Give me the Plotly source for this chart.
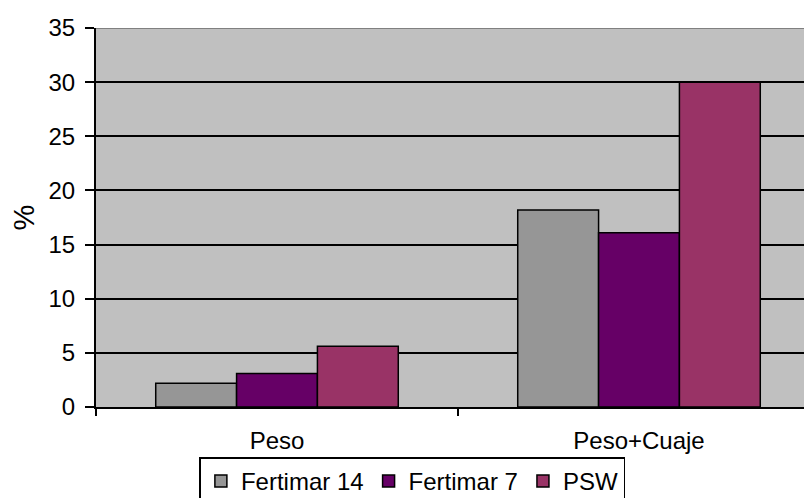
import plotly.graph_objects as go

# data
categories = ['Peso', 'Peso+Cuaje']
fertimar14 = [2.2, 18.2]
fertimar7 = [3.1, 16.1]
psw = [5.6, 30.0]

series_names = ['Fertimar 14', 'Fertimar 7', 'PSW']
series_colors = ['#969696', '#660066', '#993366']

FONT = 'Liberation Sans, Arial, sans-serif'

fig = go.Figure()
for name, vals, col in zip(series_names, [fertimar14, fertimar7, psw], series_colors):
    fig.add_trace(go.Bar(
        x=categories, y=vals, name=name,
        marker=dict(color=col, line=dict(color='black', width=1.5)),
    ))

# page has an 8px body margin, margins are set with that in mind
fig.update_layout(
    width=812, height=498,
    margin=dict(l=88, r=0, t=20, b=99, autoexpand=False),
    paper_bgcolor='white',
    plot_bgcolor='#C0C0C0',
    barmode='group',
    bargap=0.33, bargroupgap=0,
    font=dict(family=FONT, size=24, color='black'),
    showlegend=True,
    legend=dict(
        orientation='h',
        x=0.437, xanchor='center',
        y=-0.133, yanchor='top',
        bordercolor='black', borderwidth=1.5,
        bgcolor='white',
        font=dict(size=24),
        itemwidth=30,
        tracegroupgap=0,
    ),
)

# right part of the plot area runs past the canvas like in the reference
fig.update_xaxes(
    range=[-0.5, 1.5],
    tickson='boundaries',
    ticks='outside', ticklen=7, tickwidth=2, tickcolor='black',
    showline=True, linecolor='black', linewidth=2,
    showgrid=False,
    ticklabelstandoff=11,
    automargin=False,
)
fig.update_yaxes(
    range=[0, 35], dtick=5,
    ticks='outside', ticklen=9, tickwidth=2, tickcolor='black',
    showline=True, linecolor='black', linewidth=2,
    showgrid=True, gridcolor='black', gridwidth=1.5,
    zeroline=False,
    title=dict(text='%', standoff=14),
    ticklabelstandoff=5,
    automargin=False,
)

# grey plot-area border on top
fig.add_shape(type='line', xref='paper', yref='y', x0=0, x1=1, y0=35, y1=35,
              line=dict(color='#808080', width=2), layer='above')

fig.write_html('out.html')
